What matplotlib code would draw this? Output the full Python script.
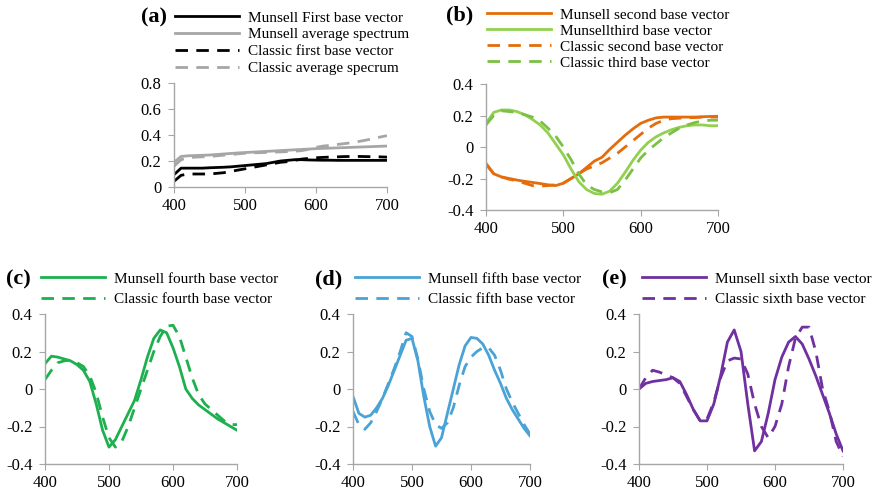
import numpy as np
import matplotlib
matplotlib.use('Agg')
import matplotlib.pyplot as plt

plt.rcParams['font.family'] = ['Liberation Serif', 'DejaVu Serif']

# wavelengths (nm), 10 nm steps
wl = np.arange(400, 701, 10)

# (a) first base vectors and average spectra
munsell_first = [0.095, 0.145, 0.145, 0.145, 0.145, 0.148, 0.15, 0.152, 0.155, 0.16, 0.165,
                 0.17, 0.175, 0.18, 0.19, 0.2, 0.205, 0.21, 0.21, 0.208, 0.207, 0.206, 0.206,
                 0.205, 0.205, 0.205, 0.205, 0.205, 0.205, 0.205, 0.205]
munsell_avg = [0.19, 0.235, 0.24, 0.242, 0.244, 0.246, 0.25, 0.254, 0.258, 0.262, 0.265,
               0.268, 0.271, 0.274, 0.277, 0.28, 0.283, 0.286, 0.289, 0.292, 0.295, 0.297,
               0.299, 0.301, 0.303, 0.305, 0.307, 0.309, 0.311, 0.313, 0.315]
classic_first = [0.044, 0.09, 0.1, 0.1, 0.1, 0.1, 0.105, 0.11, 0.12, 0.13, 0.14,
                 0.15, 0.16, 0.17, 0.18, 0.19, 0.195, 0.205, 0.215, 0.22, 0.225, 0.228,
                 0.23, 0.232, 0.234, 0.235, 0.235, 0.234, 0.233, 0.232, 0.23]
classic_avg = [0.16, 0.21, 0.225, 0.23, 0.232, 0.235, 0.24, 0.245, 0.25, 0.255, 0.26,
               0.262, 0.264, 0.266, 0.268, 0.27, 0.272, 0.275, 0.28, 0.29, 0.305, 0.315,
               0.32, 0.327, 0.334, 0.34, 0.35, 0.36, 0.372, 0.384, 0.395]

# (b) second and third base vectors
munsell_second = [-0.104, -0.17, -0.19, -0.2, -0.21, -0.218, -0.225, -0.232, -0.24, -0.245, -0.23,
                  -0.2, -0.17, -0.13, -0.09, -0.065, -0.015, 0.03, 0.075, 0.115, 0.15,
                  0.17, 0.185, 0.19, 0.19, 0.19, 0.19, 0.19, 0.192, 0.194, 0.195]
munsell_third = [0.15, 0.22, 0.235, 0.235, 0.225, 0.205, 0.175, 0.14, 0.09, 0.02, -0.05,
                 -0.14, -0.22, -0.27, -0.295, -0.3, -0.28, -0.23, -0.16, -0.085, -0.02,
                 0.03, 0.065, 0.09, 0.11, 0.125, 0.135, 0.14, 0.14, 0.135, 0.135]
classic_second = [-0.11, -0.17, -0.19, -0.205, -0.215, -0.23, -0.245, -0.248, -0.245, -0.24, -0.23,
                  -0.2, -0.17, -0.14, -0.12, -0.1, -0.07, -0.04, 0.0, 0.04, 0.08,
                  0.12, 0.15, 0.17, 0.18, 0.183, 0.185, 0.187, 0.19, 0.19, 0.19]
classic_third = [0.14, 0.2, 0.23, 0.225, 0.22, 0.205, 0.19, 0.165, 0.12, 0.07, 0.0,
                 -0.08, -0.17, -0.24, -0.27, -0.285, -0.29, -0.27, -0.21, -0.14, -0.07,
                 -0.02, 0.02, 0.06, 0.09, 0.12, 0.14, 0.155, 0.165, 0.17, 0.17]

# (c) fourth base vectors
munsell_fourth = [0.135, 0.175, 0.17, 0.16, 0.15, 0.13, 0.1, 0.04, -0.08, -0.22, -0.31,
                  -0.27, -0.2, -0.13, -0.06, 0.05, 0.17, 0.27, 0.315, 0.3, 0.22,
                  0.12, 0.0, -0.05, -0.085, -0.11, -0.135, -0.16, -0.18, -0.2, -0.22]
classic_fourth = [0.05, 0.1, 0.14, 0.15, 0.155, 0.14, 0.12, 0.07, -0.02, -0.15, -0.26,
                  -0.31, -0.28, -0.2, -0.1, 0.0, 0.1, 0.2, 0.28, 0.335, 0.34,
                  0.28, 0.17, 0.06, -0.03, -0.08, -0.11, -0.14, -0.17, -0.19, -0.19]

# (d) fifth base vectors
munsell_fifth = [-0.04, -0.13, -0.15, -0.14, -0.1, -0.05, 0.02, 0.1, 0.18, 0.26, 0.27,
                 0.15, -0.04, -0.2, -0.305, -0.26, -0.13, 0.0, 0.13, 0.23, 0.275,
                 0.27, 0.24, 0.18, 0.1, 0.03, -0.05, -0.11, -0.16, -0.21, -0.25]
classic_fifth = [-0.12, -0.19, -0.215, -0.18, -0.12, -0.05, 0.03, 0.11, 0.2, 0.3, 0.28,
                 0.16, 0.0, -0.12, -0.19, -0.21, -0.18, -0.1, 0.02, 0.12, 0.17,
                 0.2, 0.22, 0.22, 0.18, 0.1, 0.0, -0.07, -0.13, -0.19, -0.24]

# (e) sixth base vectors
munsell_sixth = [0.0, 0.03, 0.04, 0.045, 0.05, 0.06, 0.04, -0.03, -0.11, -0.17, -0.17,
                 -0.08, 0.07, 0.25, 0.315, 0.2, -0.08, -0.33, -0.28, -0.13, 0.05,
                 0.17, 0.25, 0.28, 0.24, 0.16, 0.07, -0.03, -0.13, -0.24, -0.33]
classic_sixth = [0.0, 0.06, 0.1, 0.09, 0.075, 0.06, 0.03, -0.04, -0.11, -0.17, -0.16,
                 -0.07, 0.06, 0.15, 0.165, 0.16, 0.08, -0.08, -0.2, -0.26, -0.2,
                 -0.08, 0.12, 0.27, 0.33, 0.33, 0.2, 0.0, -0.12, -0.28, -0.36]

W, H = 880, 494
fig = plt.figure(figsize=(W / 100, H / 100), dpi=100)

AXCOL = '#a6a6a6'
DASH = (4.5, 3)
LW = 2.0


def px_axes(left, right, top, bottom):
    return fig.add_axes([left / W, 1 - bottom / H, (right - left) / W, (bottom - top) / H])


def style(ax, ylim, yticks):
    ax.set_xlim(400, 700)
    ax.set_ylim(*ylim)
    ax.set_xticks([400, 500, 600, 700])
    ax.set_yticks(yticks)
    ax.set_yticklabels(['0' if t == 0 else f'{t:.1f}' for t in yticks])
    for s in ['top', 'right']:
        ax.spines[s].set_visible(False)
    for s in ['left', 'bottom']:
        ax.spines[s].set_color(AXCOL)
        ax.spines[s].set_linewidth(1.0)
    ax.tick_params(axis='x', length=4, color=AXCOL, labelsize=12, pad=4)
    ax.tick_params(axis='y', length=4, color=AXCOL, labelsize=12, pad=5)


def legend(ax, lx, ty, spacing):
    ax.legend(loc='upper left', bbox_to_anchor=(lx / W, 1 - ty / H),
              bbox_transform=fig.transFigure, frameon=False, fontsize=11,
              handlelength=4.2, handletextpad=0.6, labelspacing=spacing,
              borderaxespad=0, borderpad=0)


def tag(x, y, s):
    fig.text(x / W, 1 - y / H, s, fontsize=16, fontweight='bold', va='center', ha='left')


# (a)
ax = px_axes(174, 387, 83, 187)
ax.plot(wl, munsell_first, color='black', lw=LW, label='Munsell First base vector')
ax.plot(wl, munsell_avg, color='#a6a6a6', lw=LW, label='Munsell average spectrum')
ax.plot(wl, classic_first, color='black', lw=LW, dashes=DASH, label='Classic first base vector')
ax.plot(wl, classic_avg, color='#a6a6a6', lw=LW, dashes=DASH, label='Classic average specrum')
style(ax, (0, 0.8), [0, 0.2, 0.4, 0.6, 0.8])
legend(ax, 175, 11, 0.2)
tag(141, 17, '(a)')

# (b)
ax = px_axes(486, 718, 84, 210)
ax.plot(wl, munsell_second, color='#e46c0a', lw=LW, label='Munsell second base vector')
ax.plot(wl, munsell_third, color='#92d050', lw=LW, label='Munsellthird base vector')
ax.plot(wl, classic_second, color='#e46c0a', lw=LW, dashes=DASH, label='Classic second base vector')
ax.plot(wl, classic_third, color='#7ac143', lw=LW, dashes=DASH, label='Classic third base vector')
style(ax, (-0.4, 0.4), [-0.4, -0.2, 0, 0.2, 0.4])
legend(ax, 487, 8, 0.15)
tag(446, 15, '(b)')

# (c)
ax = px_axes(45, 237, 314, 464)
ax.plot(wl, munsell_fourth, color='#1db04f', lw=LW, label='Munsell fourth base vector')
ax.plot(wl, classic_fourth, color='#1db04f', lw=LW, dashes=DASH, label='Classic fourth base vector')
style(ax, (-0.4, 0.4), [-0.4, -0.2, 0, 0.2, 0.4])
legend(ax, 41, 272, 0.45)
tag(6, 279, '(c)')

# (d)
ax = px_axes(353, 530, 314, 464)
ax.plot(wl, munsell_fifth, color='#4aa3d6', lw=LW, label='Munsell fifth base vector')
ax.plot(wl, classic_fifth, color='#4aa3d6', lw=LW, dashes=DASH, label='Classic fifth base vector')
style(ax, (-0.4, 0.4), [-0.4, -0.2, 0, 0.2, 0.4])
legend(ax, 355, 272, 0.45)
tag(315, 279, '(d)')

# (e)
ax = px_axes(639, 843, 314, 464)
ax.plot(wl, munsell_sixth, color='#7030a0', lw=LW, label='Munsell sixth base vector')
ax.plot(wl, classic_sixth, color='#7030a0', lw=LW, dashes=DASH, label='Classic sixth base vector')
style(ax, (-0.4, 0.4), [-0.4, -0.2, 0, 0.2, 0.4])
legend(ax, 642, 272, 0.45)
tag(602, 279, '(e)')

fig.savefig('out.png', dpi=100)
